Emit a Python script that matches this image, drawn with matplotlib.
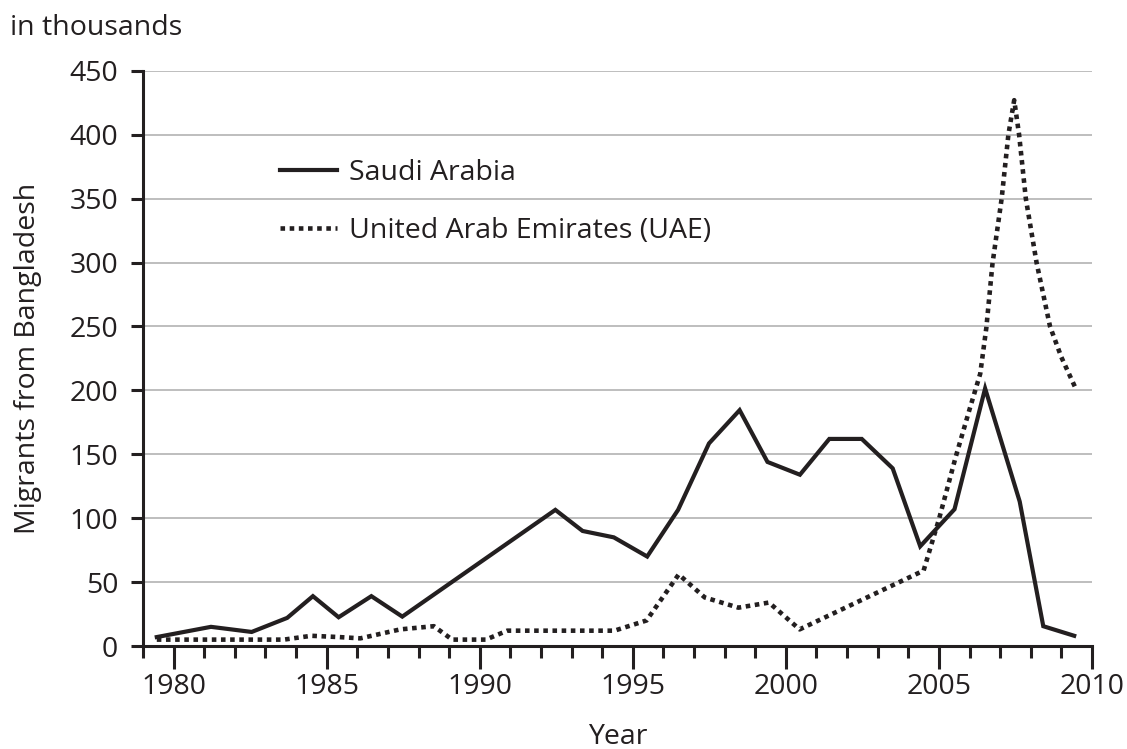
import matplotlib
matplotlib.use("Agg")
import matplotlib.pyplot as plt
from matplotlib.ticker import MultipleLocator

# Data (thousands of migrants)
saudi_years = [1979.45, 1981.22, 1982.55, 1983.71, 1984.55, 1985.39, 1986.46, 1987.47,
               1992.47, 1993.36, 1994.38, 1995.47, 1996.48, 1997.49, 1998.49, 1999.4,
               2000.46, 2001.42, 2002.48, 2003.49, 2004.39, 2005.51, 2006.51, 2007.64,
               2008.41, 2009.42]
saudi_values = [7, 15, 11, 22, 39, 22.5, 39, 23,
                106.5, 90, 85, 70, 106.5, 158.5, 184.5, 144,
                134, 162, 162, 139, 78, 107, 201.5, 113,
                15.5, 8]

uae_years = [1979.45, 1983.6, 1984.5, 1985.4, 1986.1, 1987.4, 1988.5, 1989.1, 1990.2,
             1990.9, 1994.4, 1995.45, 1996.5, 1997.35, 1998.45, 1999.45, 2000.45,
             2004.5, 2005.0, 2005.55, 2006.0, 2006.35, 2006.55, 2006.75, 2007.05,
             2007.27, 2007.46, 2007.62, 2007.84, 2008.19, 2008.63, 2009.0, 2009.44]
uae_values = [5, 5, 8, 7, 6, 13, 15.5, 5, 5,
              12, 12, 20, 56, 38, 30, 34, 13,
              59, 99, 148, 185, 213, 249, 299, 350,
              400, 427, 400, 350, 300, 250, 226, 203]

ink = "#231f20"
plt.rcParams["font.family"] = ["Open Sans", "DejaVu Sans"]
plt.rcParams["text.color"] = ink

fig = plt.figure(figsize=(11.27, 7.49), dpi=100)
ax = fig.add_axes([0.1269, 0.1375, 0.842, 0.768])

ax.plot(saudi_years, saudi_values, color=ink, lw=3, solid_joinstyle="miter",
        label="Saudi Arabia", zorder=3)
ax.plot(uae_years, uae_values, color=ink, lw=3.3, linestyle=(0, (1, 1)),
        dash_capstyle="butt", label="United Arab Emirates (UAE)", zorder=3)

ax.set_xlim(1979, 2010)
ax.set_ylim(0, 450)
ax.xaxis.set_major_locator(MultipleLocator(5))
ax.xaxis.set_minor_locator(MultipleLocator(1))
ax.yaxis.set_major_locator(MultipleLocator(50))

ax.grid(axis="y", color="#b3b3b3", lw=1.2, zorder=0)
ax.set_axisbelow(True)

for side in ["top", "right"]:
    ax.spines[side].set_visible(False)
for side in ["left", "bottom"]:
    ax.spines[side].set_linewidth(2.2)
    ax.spines[side].set_color(ink)

ax.tick_params(axis="x", which="major", length=16.5, width=2.2, pad=3,
               labelsize=20.5, color=ink, labelcolor=ink)
ax.tick_params(axis="x", which="minor", length=8.6, width=2.2, color=ink)
ax.tick_params(axis="y", length=8.8, width=2.2, pad=9, labelsize=20.5,
               color=ink, labelcolor=ink)

ax.set_ylabel("Migrants from Bangladesh", fontsize=20.5, color=ink)
ax.yaxis.set_label_coords(-0.121, 0.5)
ax.yaxis.label.set_va("center")
ax.set_xlabel("Year", fontsize=20.5, color=ink)
ax.xaxis.set_label_coords(0.5, -0.158)
ax.xaxis.label.set_va("center")

fig.text(10 / 1127, 1 - 28 / 749, "in thousands", fontsize=20.5, va="center", ha="left")

ax.legend(loc="upper left", bbox_to_anchor=(0.1444, 0.846), frameon=False,
          fontsize=20.5, handlelength=2.0, handletextpad=0.42, labelspacing=1.03,
          borderpad=0, borderaxespad=0)

fig.savefig("out.png", dpi=100)
